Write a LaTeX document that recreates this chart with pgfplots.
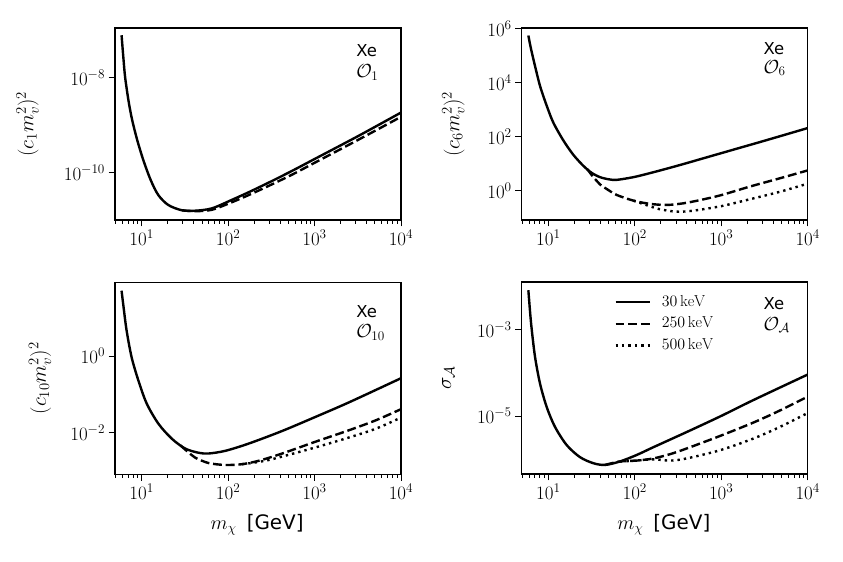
\RequirePackage{fix-cm}
\documentclass[border=0pt]{standalone}
\usepackage{fontspec}
\usepackage{pgfplots}
\pgfplotsset{compat=1.18}
\newfontfamily\dejavu{DejaVu Sans}
\pgfplotsset{
 every axis/.append style={
  xmode=log, ymode=log, scale only axis, width=286bp, height=192bp,
  xmin=4.92, xmax=10000,
  xtick={10,100,1000,10000},
  minor xtick={5,6,7,8,9,20,30,40,50,60,70,80,90,200,300,400,500,600,700,800,900,2000,3000,4000,5000,6000,7000,8000,9000},
  yminorticks=false,
  tick pos=left, tick align=outside,
  major tick length=6.5bp, minor tick length=3.7bp,
  every tick/.style={black, line width=1bp},
  axis line style={line width=1.1bp},
  tick label style={font=\fontsize{19}{22}\selectfont},
  label style={font=\fontsize{20}{24}\selectfont},
  xlabel style={at={(axis description cs:0.497,-0.264)}, anchor=center},
 },
}
\tikzset{
 mysol/.style={black, line width=2.4bp},
 mydas/.style={black, line width=2.4bp, dash pattern=on 8.9bp off 3.8bp},
 mydot/.style={black, line width=2.4bp, dash pattern=on 2.4bp off 4bp},
 myann/.style={anchor=base west, inner sep=0pt},
}
\begin{document}
\begin{tikzpicture}
\useasboundingbox (0,0) rectangle (843bp,562bp);

% ---------------- top left: O1
\begin{axis}[at={(115bp,342bp)}, anchor=south west,
  ymin=1.01e-11, ymax=1.13e-7, ytick={1e-10,1e-8},
  ylabel={$(c_1 m_v^2)^2$},
  ylabel style={at={(axis description cs:-0.306,0.5)}, anchor=center, font=\fontsize{21}{24}\selectfont}]
\addplot[mysol, smooth, tension=0.5] coordinates {
(5.861,7.943e-8) (6.166,2.512e-8) (6.457,1.0e-8) (7.079,3.162e-9) (7.780,1.288e-9)
(8.892,4.898e-10) (10.45,1.862e-10) (12.71,7.079e-11) (15.60,3.388e-11) (20.37,2.089e-11)
(29.17,1.622e-11) (41.59,1.585e-11) (65.01,1.778e-11) (110.9,2.692e-11) (177.8,3.981e-11)
(316.2,6.607e-11) (562.3,1.122e-10) (1000,1.950e-10) (3162,5.888e-10) (10000,1.862e-9)};
\addplot[mydas, smooth, tension=0.5] coordinates {
(29.17,1.622e-11) (41.59,1.549e-11) (65.01,1.660e-11) (110.9,2.399e-11) (177.8,3.467e-11)
(316.2,5.623e-11) (562.3,9.333e-11) (1000,1.622e-10) (3162,4.898e-10) (10000,1.514e-9)};
\node[myann, font=\dejavu\fontsize{16.5}{20}\selectfont] at (rel axis cs:0.843,0.854) {Xe};
\node[myann, font=\fontsize{19}{22}\selectfont] at (rel axis cs:0.843,0.743) {$\mathcal{O}_1$};
\end{axis}

% ---------------- top right: O6
\begin{axis}[at={(521.7bp,342bp)}, anchor=south west,
  ymin=0.0817, ymax=1.07e6, ytick={1,100,10000,1000000},
  ylabel={$(c_6 m_v^2)^2$},
  ylabel style={at={(axis description cs:-0.239,0.5)}, anchor=center, font=\fontsize{21}{24}\selectfont}]
\addplot[mysol, smooth, tension=0.5] coordinates {
(5.875,5.623e5) (6.310,1.778e5) (7.015,4.169e4) (8.017,7586) (9.572,1413)
(11.43,331.1) (14.93,72.44) (19.45,21.38) (25.41,8.318) (31.70,4.571)
(39.63,3.162) (50.12,2.630) (61.80,2.512) (96.38,3.162) (150.0,4.467)
(316.2,8.511) (1000,24.55) (3162,70.79) (10000,208.9)};
\addplot[mydas, smooth, tension=0.5] coordinates {
(28.18,6.310) (31.70,3.802) (36.31,2.291) (39.63,1.698) (50.12,1.023)
(61.80,0.6918) (96.38,0.4266) (150.0,0.3236) (234.4,0.2951) (363.1,0.3388)
(568.9,0.4467) (1014,0.6918) (2138,1.413) (4786,2.884) (10000,5.623)};
\addplot[mydot, smooth, tension=0.5] coordinates {
(96.38,0.4266) (150.0,0.2630) (195.0,0.2042) (305.5,0.1660) (478.6,0.1820)
(1014,0.2692) (2138,0.4786) (4786,0.9120) (10000,1.820)};
\node[myann, font=\dejavu\fontsize{16.5}{20}\selectfont] at (rel axis cs:0.845,0.861) {Xe};
\node[myann, font=\fontsize{19}{22}\selectfont] at (rel axis cs:0.845,0.765) {$\mathcal{O}_6$};
\end{axis}

% ---------------- bottom left: O10
\begin{axis}[at={(115bp,87.7bp)}, anchor=south west,
  ymin=8.05e-4, ymax=85, ytick={0.01,1},
  ylabel={$(c_{10} m_v^2)^2$},
  ylabel style={at={(axis description cs:-0.262,0.5)}, anchor=center, font=\fontsize{21}{24}\selectfont},
  xlabel={$m_\chi$\hspace{10bp}{\dejavu [GeV]}}]
\addplot[mysol, smooth, tension=0.5] coordinates {
(5.861,51.29) (6.166,19.95) (6.699,4.677) (7.656,0.9333) (9.141,0.2344)
(11.43,0.05754) (15.63,0.01698) (22.28,6.918e-3) (31.84,3.802e-3) (45.50,2.951e-3)
(59.43,2.818e-3) (92.90,3.311e-3) (173.4,5.129e-3) (422.7,0.01096) (1030,0.02570)
(2512,0.06166) (10000,0.2630)};
\addplot[mydas, smooth, tension=0.5] coordinates {
(28.18,4.571e-3) (36.39,2.754e-3) (41.69,2.188e-3) (59.43,1.585e-3) (92.90,1.413e-3)
(144.5,1.479e-3) (226.5,1.820e-3) (422.7,2.818e-3) (1030,5.754e-3) (2512,0.01148)
(5129,0.02089) (10000,0.04074)};
\addplot[mydot, smooth, tension=0.5] coordinates {
(144.5,1.479e-3) (199.5,1.622e-3) (281.8,1.862e-3) (422.7,2.344e-3) (1030,4.074e-3)
(2512,7.413e-3) (5129,0.01259) (10000,0.02455)};
\node[myann, font=\dejavu\fontsize{16.5}{20}\selectfont] at (rel axis cs:0.843,0.815) {Xe};
\node[myann, font=\fontsize{19}{22}\selectfont] at (rel axis cs:0.843,0.71) {$\mathcal{O}_{10}$};
\end{axis}

% ---------------- bottom right: sigma_A
\begin{axis}[at={(521.7bp,88bp)}, anchor=south west,
  ymin=4.57e-7, ymax=1.26e-2, ytick={1e-5,1e-3},
  ylabel={$\sigma_{\mathcal{A}}$},
  ylabel style={at={(axis description cs:-0.257,0.5)}, anchor=center, font=\fontsize{21}{24}\selectfont},
  xlabel={$m_\chi$\hspace{10bp}{\dejavu [GeV]}},
  legend style={draw=none, fill=none, at={(axis description cs:0.324,0.932)}, anchor=north west,
    font=\fontsize{16}{19}\selectfont, inner sep=0pt, outer sep=0pt, row sep=7.7bp, column sep=0bp,
    nodes={inner sep=0pt, text height=11bp, text depth=3bp}},
  legend cell align=left,
  legend image code/.code={\draw[#1] (0bp,0bp) -- (34bp,0bp);}]
\addplot[mysol, smooth, tension=0.5] coordinates {
(5.875,8.128e-3) (6.166,2.399e-3) (6.412,1.047e-3) (7.015,2.344e-4) (8.017,5.623e-5)
(9.572,1.622e-5) (11.94,5.623e-6) (16.29,2.138e-6) (23.23,1.122e-6) (33.11,8.128e-7)
(45.29,7.413e-7) (67.45,8.913e-7) (105.2,1.259e-6) (164.1,1.905e-6) (398.1,4.266e-6)
(968.3,9.772e-6) (2355,2.344e-5) (10000,9.120e-5)};
\addlegendentry{\hspace{11bp}$30\,\mathrm{keV}$}
\addplot[mydas, smooth, tension=0.5] coordinates {
(45.29,7.413e-7) (67.45,8.913e-7) (105.2,9.333e-7) (164.1,1.047e-6) (257.0,1.318e-6)
(398.1,1.778e-6) (968.3,3.467e-6) (2355,7.079e-6) (4786,1.349e-5) (10000,2.818e-5)};
\addlegendentry{\hspace{11bp}$250\,\mathrm{keV}$}
\addplot[mydot, smooth, tension=0.5] coordinates {
(67.45,8.913e-7) (105.2,9.333e-7) (164.1,1.0e-6) (257.0,9.333e-7) (398.1,1.047e-6)
(968.3,1.622e-6) (2355,3.020e-6) (4786,5.623e-6) (10000,1.175e-5)};
\addlegendentry{\hspace{11bp}$500\,\mathrm{keV}$}
\node[myann, font=\dejavu\fontsize{16.5}{20}\selectfont] at (rel axis cs:0.845,0.856) {Xe};
\node[myann, font=\fontsize{19}{22}\selectfont] at (rel axis cs:0.845,0.75) {$\mathcal{O}_{\mathcal{A}}$};
\end{axis}
\end{tikzpicture}
\end{document}
